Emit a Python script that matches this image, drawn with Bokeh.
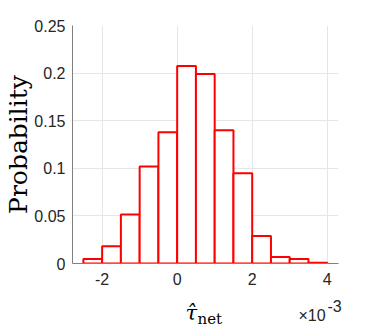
from bokeh.plotting import figure
from bokeh.models import FixedTicker, Label, Range1d
from bokeh.embed import file_html
from bokeh.resources import INLINE

# Histogram data (x in units of 1e-3)
bin_edges = [-2.5, -2.0, -1.5, -1.0, -0.5, 0.0, 0.5, 1.0, 1.5, 2.0, 2.5, 3.0, 3.5, 4.0]
probabilities = [0.0046, 0.018, 0.0516, 0.1018, 0.1379, 0.2074, 0.199, 0.140, 0.0947, 0.029, 0.0067, 0.0046, 0.0008]

x_ticks = [-2, 0, 2, 4]
x_tick_labels = ["-2", "0", "2", "4"]
y_ticks = [0, 0.05, 0.1, 0.15, 0.2, 0.25]
y_tick_labels = ["0", "0.05", "0.1", "0.15", "0.2", "0.25"]

y_label = "Probability"
x_label_main = "\u03c4\u0302"
x_label_sub = "net"
exp_base = "\u00d710"
exp_power = "-3"

p = figure(width=374, height=332, output_backend="svg", toolbar_location=None,
           x_range=Range1d(-2.79, 4.30), y_range=Range1d(0, 0.25),
           min_border_left=72, min_border_right=36, min_border_top=25, min_border_bottom=69)
p.outline_line_color = None
p.background_fill_color = "white"
p.border_fill_color = "white"

p.quad(left=bin_edges[:-1], right=bin_edges[1:], top=probabilities, bottom=0,
       fill_color="white", line_color="#ff0000", line_width=2)

tick_color = "#262626"
for ax, ticks, labels in ((p.xaxis[0], x_ticks, x_tick_labels), (p.yaxis[0], y_ticks, y_tick_labels)):
    ax.ticker = FixedTicker(ticks=ticks)
    ax.major_label_overrides = {t: l for t, l in zip(ticks, labels)}
    ax.major_tick_in = 0
    ax.major_tick_out = 0
    ax.minor_tick_in = 0
    ax.minor_tick_out = 0
    ax.axis_line_color = "#808080"
    ax.axis_line_width = 1
    ax.major_label_text_font = "Liberation Sans"
    ax.major_label_text_font_size = "16px"
    ax.major_label_text_color = tick_color

p.yaxis[0].major_label_standoff = 7
p.xaxis[0].major_label_standoff = 9

p.yaxis[0].axis_label = y_label
p.yaxis[0].axis_label_text_font = "DejaVu Serif"
p.yaxis[0].axis_label_text_font_style = "normal"
p.yaxis[0].axis_label_text_font_size = "25px"
p.yaxis[0].axis_label_text_color = "#000000"
p.yaxis[0].axis_label_standoff = -2

p.xgrid.ticker = FixedTicker(ticks=x_ticks)
p.ygrid.ticker = FixedTicker(ticks=y_ticks)
p.grid.grid_line_color = "#e6e6e6"
p.grid.grid_line_width = 1


def canvas_label(x, y, text, font, size, color, style="normal"):
    return Label(x=x, y=y, x_units="canvas", y_units="canvas", text=text,
                 text_align="left", text_baseline="alphabetic",
                 text_font=font, text_font_size=size, text_font_style=style,
                 text_color=color)


# x-axis title (tau-hat with "net" subscript) and the x10^-3 multiplier
p.add_layout(canvas_label(185, 312, x_label_main, "DejaVu Serif", "21px", "#000000", "italic"), "below")
p.add_layout(canvas_label(197, 318, x_label_sub, "DejaVu Serif", "15px", "#000000"), "below")
p.add_layout(canvas_label(298, 315, exp_base, "Liberation Sans", "16px", tick_color), "above")
p.add_layout(canvas_label(327, 305, exp_power, "Liberation Sans", "16px", tick_color), "right")

open("out.html", "w").write(file_html(p, INLINE))
